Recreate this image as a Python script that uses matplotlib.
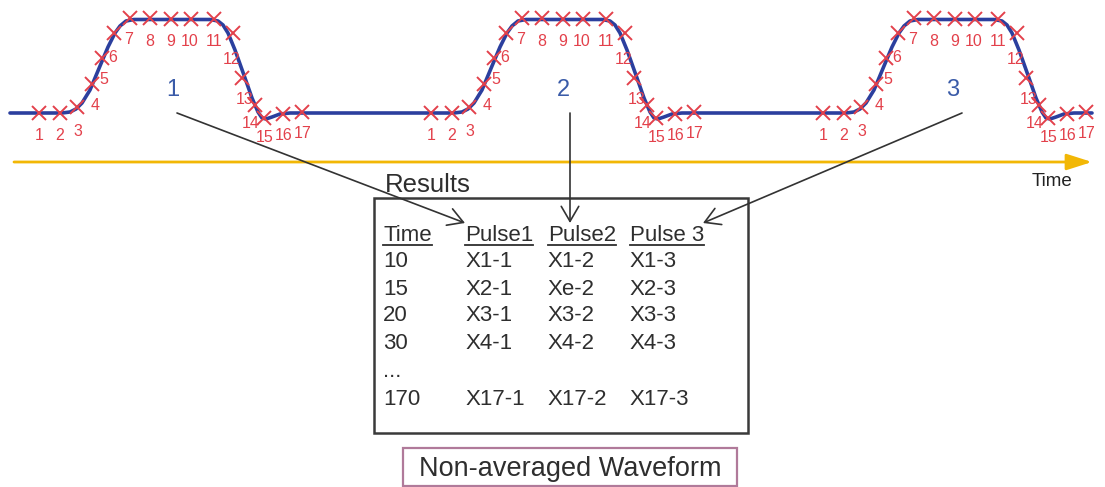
import matplotlib
matplotlib.use("Agg")
import matplotlib.pyplot as plt
from matplotlib.patches import Rectangle

plt.rcParams['font.family'] = ['Liberation Sans', 'DejaVu Sans']

# one pulse of the waveform (pixel units, pulse 1)
trace_x = [62, 70, 76, 82, 90, 100, 108, 115, 120, 126, 134, 210, 218, 223, 228, 235, 245, 252, 258, 262, 266, 272, 280, 290]
trace_y = [113, 112, 109, 103, 90, 66, 47, 33, 26, 21, 19.5, 19.5, 21, 25, 33, 50, 78, 98, 112, 118, 119, 117, 114, 113]

# the 17 sample points of one pulse
sample_ids = list(range(1, 18))
sample_x = [39, 60, 77, 92, 102, 114, 130, 150, 171, 191, 214, 233, 242, 255, 264, 283, 302]
sample_y = [113, 113, 107, 84, 58, 33, 18, 18, 19, 19, 19, 33, 78, 105, 118, 114, 112]

pulse_offsets = [0, 392, 784]
pulse_names = ['1', '2', '3']

headers = ['Time', 'Pulse1', 'Pulse2', 'Pulse 3']
time_col = ['10', '15', '20', '30', '...', '170']
pulse1_col = ['X1-1', 'X2-1', 'X3-1', 'X4-1', '', 'X17-1']
pulse2_col = ['X1-2', 'Xe-2', 'X3-2', 'X4-2', '', 'X17-2']
pulse3_col = ['X1-3', 'X2-3', 'X3-3', 'X4-3', '', 'X17-3']

# label positions next to the sample marks
label_x = [39, 60, 78, 95, 104, 113, 129, 150, 171, 190, 214, 232, 245, 251, 265, 284, 303]
label_y = [135, 136, 132, 106, 80, 57, 40, 41, 42, 42, 42, 60, 100, 123, 137, 135, 133]

fig = plt.figure(figsize=(11.05, 4.87), dpi=100)
ax = fig.add_axes([0, 0, 1, 1])
ax.set_xlim(0, 1105)
ax.set_ylim(487, 0)
ax.axis('off')

blue = '#2b3f9e'
red = '#e3414b'
dark = '#2e2e2e'

# waveform line built from the three pulses
wx, wy = [10], [113]
for off in pulse_offsets:
    wx += [x + off for x in trace_x]
    wy += trace_y
wx.append(1092)
wy.append(113)
ax.plot(wx, wy, color=blue, lw=2.6, solid_capstyle='round', zorder=2)

for off, name in zip(pulse_offsets, pulse_names):
    ax.plot([x + off for x in sample_x], sample_y, linestyle='none', marker='x',
            ms=10, mew=1.4, color=red, zorder=3)
    for i, lx, ly in zip(sample_ids, label_x, label_y):
        ax.text(lx + off, ly, str(i), color=red, fontsize=11.5, ha='center', va='center', zorder=4)
    ax.text(173 + off * 0.995, 90, name, color='#3a5ba8', fontsize=17, ha='center', va='center')

# time axis
ax.annotate('', xy=(1092, 162), xytext=(14, 162),
            arrowprops=dict(arrowstyle='-|>,head_length=1.1,head_width=0.35',
                            color='#f2b705', lw=2, mutation_scale=14,
                            shrinkA=0, shrinkB=0))
ax.text(1052, 182, 'Time', color='#222222', fontsize=13.5, ha='center', va='center')

# arrows from pulses to the table
arrow_start = [(177, 113), (570, 113), (962, 113)]
arrow_end = [(465, 223), (570, 223), (703, 223)]
for s, e in zip(arrow_start, arrow_end):
    ax.annotate('', xy=e, xytext=s,
                arrowprops=dict(arrowstyle='->,head_length=0.6,head_width=0.35',
                                color='#333333', lw=1.2, mutation_scale=18,
                                shrinkA=0, shrinkB=0))

# results box
ax.add_patch(Rectangle((374, 198), 374, 235, fill=False, edgecolor='#3a3a3a', lw=1.8))
ax.text(385, 192, 'Results', color=dark, fontsize=18.5, ha='left', va='baseline')

col_x = [383, 465, 548, 630]
row_base = [267, 295, 321, 349, 377, 405]
head_texts = []
for cx, h in zip(col_x, headers):
    head_texts.append(ax.text(cx, 241, h, color=dark, fontsize=16, ha='left', va='baseline'))
for cx, col in zip(col_x, [time_col, pulse1_col, pulse2_col, pulse3_col]):
    for yb, v in zip(row_base, col):
        ax.text(cx, yb, v, color=dark, fontsize=16, ha='left', va='baseline')

fig.canvas.draw()
inv = ax.transData.inverted()
for t in head_texts:
    bb = t.get_window_extent()
    x0, _ = inv.transform((bb.x0, bb.y0))
    x1, _ = inv.transform((bb.x1, bb.y0))
    ax.plot([x0, x1], [244.5, 244.5], color=dark, lw=1.3)

# caption box
ax.add_patch(Rectangle((403, 448), 334, 38, fill=False, edgecolor='#b07a9a', lw=1.6))
ax.text(570, 476, 'Non-averaged Waveform', color=dark, fontsize=19.5, ha='center', va='baseline')

fig.savefig('out.png', dpi=100)
